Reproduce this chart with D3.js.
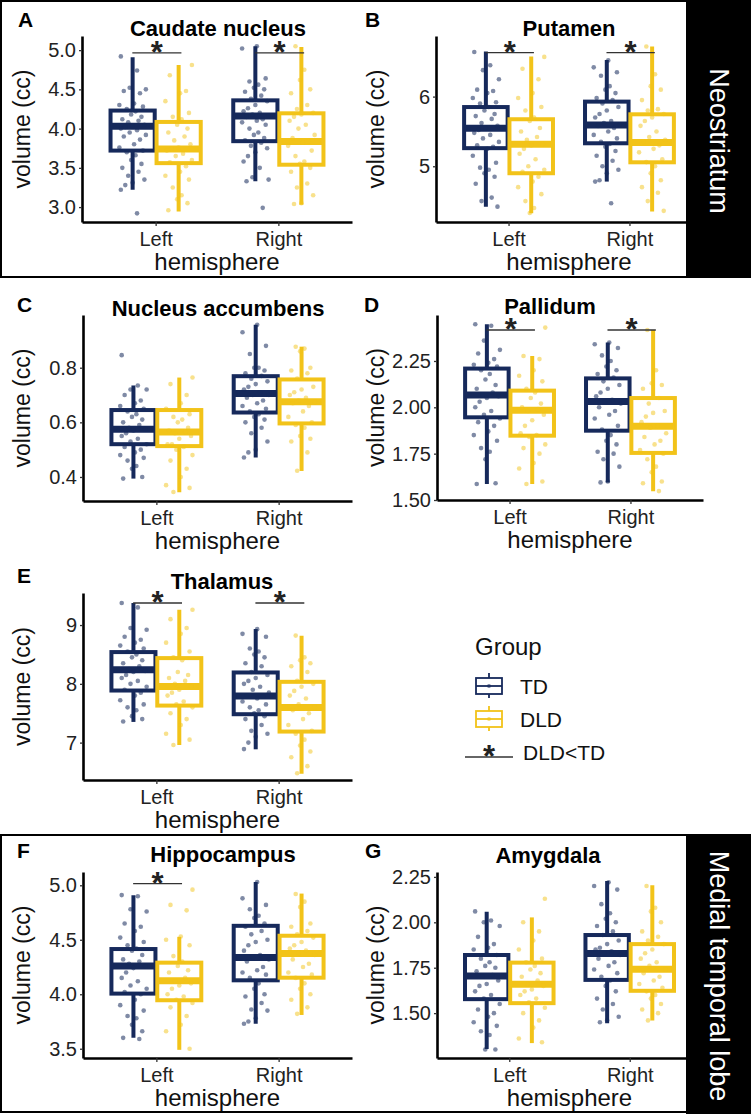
<!DOCTYPE html>
<html>
<head>
<meta charset="utf-8">
<script src="https://cdn.jsdelivr.net/npm/d3@7"></script>
<style>
body { margin: 0; background: #fff; }
svg { display: block; }
text { font-family: "Liberation Sans", Arial, Helvetica, sans-serif; }
</style>
</head>
<body>
<div id="chart"></div>
<script>
var width = 751, height = 1114;

var hemispheres = ["Left", "Right"];
var groups = ["TD", "DLD"];

// box stats: [lower whisker, q1, median, q3, upper whisker]
// order of rows: TD-Left, DLD-Left, TD-Right, DLD-Right
var caudateBox = [[3.22, 3.72, 4.03, 4.23, 4.91], [2.945, 3.56, 3.74, 4.085, 4.81],
                  [3.33, 3.84, 4.16, 4.36, 5.05], [3.03, 3.54, 3.835, 4.195, 5.04]];
var putamenBox = [[4.42, 5.26, 5.545, 5.85, 6.646], [4.325, 4.9, 5.316, 5.675, 6.574],
                  [4.78, 5.33, 5.593, 5.928, 6.526], [4.35, 5.057, 5.34, 5.746, 6.718]];
var accumbensBox = [[0.394, 0.52, 0.575, 0.645, 0.735], [0.344, 0.513, 0.565, 0.645, 0.764],
                    [0.471, 0.636, 0.706, 0.769, 0.957], [0.422, 0.596, 0.675, 0.757, 0.877]];
var pallidumBox = [[1.586, 1.946, 2.067, 2.209, 2.448], [1.586, 1.847, 1.984, 2.09, 2.277],
                   [1.595, 1.874, 2.032, 2.156, 2.349], [1.547, 1.754, 1.898, 2.05, 2.417]];
var thalamusBox = [[7.352, 7.886, 8.239, 8.54, 9.375], [6.96, 7.63, 7.955, 8.4375, 9.261],
                   [6.886, 7.483, 7.795, 8.193, 8.932], [6.47, 7.188, 7.597, 8.034, 8.818]];
var hippocampusBox = [[3.6, 4.006, 4.259, 4.415, 4.909], [3.49, 3.945, 4.125, 4.29, 4.527],
                      [3.73, 4.128, 4.338, 4.628, 5.03], [3.81, 4.152, 4.375, 4.537, 4.924]];
var amygdalaBox = [[1.303, 1.577, 1.705, 1.82, 2.058], [1.335, 1.555, 1.659, 1.778, 2.027],
                   [1.445, 1.683, 1.829, 1.93, 2.228], [1.46, 1.623, 1.741, 1.88, 2.204]];

// individual volumes (cc), same row order
var caudatePts = [
  [4.92, 4.74, 4.52, 4.50, 4.48, 4.45, 4.32, 4.30, 4.28, 4.25, 4.22, 4.18, 4.15, 4.12, 4.10, 4.08, 4.05, 4.03, 4.02, 4.00,
   3.98, 3.95, 3.92, 3.90, 3.86, 3.80, 3.76, 3.72, 3.70, 3.66, 3.60, 3.55, 3.50, 3.45, 3.40, 3.35, 3.31, 3.28, 3.22, 2.92],
  [4.81, 4.68, 4.48, 4.45, 4.35, 4.20, 4.15, 4.12, 4.05, 4.00, 3.95, 3.90, 3.85, 3.80, 3.76, 3.74, 3.72, 3.68, 3.65, 3.60,
   3.57, 3.52, 3.45, 3.40, 3.35, 3.25, 3.15, 3.10, 3.05, 2.96],
  [5.05, 5.02, 4.64, 4.60, 4.56, 4.52, 4.50, 4.47, 4.42, 4.38, 4.35, 4.30, 4.26, 4.22, 4.20, 4.18, 4.16, 4.15, 4.12, 4.10,
   4.08, 4.05, 4.00, 3.95, 3.92, 3.88, 3.85, 3.82, 3.78, 3.75, 3.70, 3.65, 3.58, 3.50, 3.38, 3.35, 3.33, 2.99],
  [5.05, 4.75, 4.62, 4.50, 4.45, 4.30, 4.25, 4.20, 4.18, 4.15, 4.10, 4.05, 4.00, 3.92, 3.88, 3.84, 3.82, 3.78, 3.72, 3.65,
   3.58, 3.55, 3.50, 3.45, 3.30, 3.25, 3.15, 3.05, 3.04]
];
var putamenPts = [
  [6.64, 6.45, 6.38, 6.25, 6.10, 6.08, 6.05, 5.98, 5.92, 5.90, 5.85, 5.80, 5.75, 5.72, 5.68, 5.62, 5.58, 5.55, 5.52, 5.48,
   5.45, 5.40, 5.35, 5.30, 5.28, 5.25, 5.15, 5.05, 4.98, 4.95, 4.90, 4.85, 4.75, 4.55, 4.50, 4.42],
  [6.57, 6.40, 6.25, 6.05, 5.98, 5.85, 5.80, 5.70, 5.65, 5.55, 5.50, 5.42, 5.38, 5.32, 5.30, 5.25, 5.18, 5.10, 5.00, 4.95,
   4.92, 4.85, 4.78, 4.70, 4.60, 4.50, 4.40, 4.33],
  [6.52, 6.42, 6.35, 6.30, 6.15, 6.10, 6.05, 5.98, 5.95, 5.90, 5.85, 5.80, 5.75, 5.70, 5.65, 5.62, 5.60, 5.58, 5.55, 5.50,
   5.45, 5.40, 5.35, 5.32, 5.28, 5.22, 5.15, 5.08, 5.00, 4.95, 4.90, 4.80, 4.78, 4.47],
  [6.72, 6.32, 6.15, 6.10, 5.95, 5.82, 5.80, 5.75, 5.70, 5.65, 5.58, 5.50, 5.42, 5.38, 5.35, 5.30, 5.25, 5.20, 5.10, 5.06,
   5.00, 4.90, 4.80, 4.70, 4.62, 4.50, 4.36]
];
var accumbensPts = [
  [0.846, 0.735, 0.72, 0.72, 0.70, 0.68, 0.67, 0.66, 0.65, 0.64, 0.63, 0.62, 0.61, 0.60, 0.59, 0.58, 0.575, 0.57, 0.56, 0.55,
   0.54, 0.53, 0.52, 0.51, 0.50, 0.49, 0.48, 0.47, 0.46, 0.44, 0.43, 0.40, 0.394],
  [0.764, 0.74, 0.70, 0.67, 0.65, 0.63, 0.62, 0.61, 0.60, 0.58, 0.57, 0.565, 0.56, 0.55, 0.54, 0.52, 0.52, 0.51, 0.50, 0.48,
   0.46, 0.43, 0.40, 0.37, 0.36, 0.345],
  [0.957, 0.93, 0.88, 0.85, 0.80, 0.80, 0.79, 0.78, 0.77, 0.76, 0.75, 0.74, 0.73, 0.72, 0.71, 0.70, 0.70, 0.69, 0.68, 0.67,
   0.66, 0.65, 0.64, 0.63, 0.62, 0.61, 0.60, 0.58, 0.56, 0.53, 0.50, 0.49, 0.471],
  [0.877, 0.87, 0.86, 0.80, 0.79, 0.78, 0.76, 0.73, 0.72, 0.71, 0.70, 0.69, 0.68, 0.675, 0.67, 0.66, 0.64, 0.62, 0.60, 0.59,
   0.58, 0.55, 0.54, 0.53, 0.49, 0.423]
];
var pallidumPts = [
  [2.448, 2.44, 2.36, 2.31, 2.29, 2.26, 2.24, 2.23, 2.22, 2.20, 2.18, 2.15, 2.12, 2.10, 2.08, 2.07, 2.06, 2.05, 2.03, 2.00,
   1.98, 1.96, 1.94, 1.92, 1.90, 1.87, 1.85, 1.82, 1.78, 1.76, 1.72, 1.59, 1.586],
  [2.43, 2.277, 2.26, 2.20, 2.17, 2.14, 2.10, 2.08, 2.05, 2.02, 2.00, 1.99, 1.98, 1.96, 1.93, 1.90, 1.86, 1.85, 1.84, 1.80,
   1.78, 1.75, 1.70, 1.67, 1.60, 1.586],
  [2.349, 2.34, 2.32, 2.28, 2.25, 2.22, 2.20, 2.18, 2.16, 2.14, 2.12, 2.10, 2.08, 2.06, 2.04, 2.03, 2.02, 2.00, 1.98, 1.96,
   1.94, 1.90, 1.88, 1.85, 1.82, 1.80, 1.76, 1.75, 1.72, 1.68, 1.60, 1.595],
  [2.417, 2.20, 2.13, 2.12, 2.10, 2.05, 2.02, 1.98, 1.97, 1.95, 1.92, 1.90, 1.89, 1.86, 1.84, 1.82, 1.80, 1.77, 1.75, 1.72,
   1.68, 1.65, 1.60, 1.59, 1.548]
];
var thalamusPts = [
  [9.375, 9.30, 8.95, 8.92, 8.80, 8.75, 8.70, 8.65, 8.60, 8.55, 8.50, 8.45, 8.40, 8.35, 8.30, 8.25, 8.22, 8.20, 8.15, 8.10,
   8.05, 8.00, 7.95, 7.90, 7.85, 7.80, 7.72, 7.65, 7.60, 7.55, 7.45, 7.40, 7.36],
  [9.26, 9.10, 8.95, 8.85, 8.70, 8.55, 8.45, 8.40, 8.20, 8.15, 8.10, 8.05, 8.00, 7.95, 7.90, 7.85, 7.80, 7.70, 7.65, 7.60,
   7.50, 7.40, 7.30, 7.15, 7.05, 6.96],
  [8.93, 8.85, 8.80, 8.60, 8.55, 8.50, 8.45, 8.35, 8.30, 8.20, 8.15, 8.10, 8.05, 8.00, 7.95, 7.90, 7.85, 7.80, 7.78, 7.75,
   7.70, 7.65, 7.60, 7.55, 7.50, 7.45, 7.40, 7.30, 7.20, 7.15, 7.10, 7.00, 6.89],
  [8.82, 8.45, 8.40, 8.35, 8.30, 8.20, 8.05, 8.00, 7.95, 7.88, 7.80, 7.75, 7.65, 7.60, 7.55, 7.50, 7.40, 7.30, 7.20, 7.15,
   7.05, 6.95, 6.85, 6.75, 6.60, 6.48]
];
var hippocampusPts = [
  [4.91, 4.90, 4.78, 4.76, 4.65, 4.62, 4.58, 4.52, 4.48, 4.45, 4.42, 4.40, 4.36, 4.32, 4.30, 4.28, 4.26, 4.24, 4.20, 4.15,
   4.12, 4.08, 4.05, 4.02, 4.00, 3.95, 3.90, 3.85, 3.80, 3.78, 3.72, 3.66, 3.60, 3.59],
  [4.96, 4.82, 4.77, 4.53, 4.50, 4.45, 4.35, 4.30, 4.26, 4.22, 4.20, 4.15, 4.12, 4.10, 4.08, 4.05, 4.00, 3.98, 3.95, 3.92,
   3.88, 3.80, 3.72, 3.66, 3.50],
  [5.03, 4.88, 4.82, 4.78, 4.72, 4.70, 4.65, 4.62, 4.58, 4.55, 4.50, 4.48, 4.45, 4.40, 4.36, 4.34, 4.32, 4.30, 4.25, 4.22,
   4.20, 4.18, 4.15, 4.10, 4.05, 4.00, 3.98, 3.92, 3.86, 3.85, 3.78, 3.75, 3.73],
  [4.92, 4.85, 4.80, 4.65, 4.62, 4.58, 4.55, 4.52, 4.48, 4.45, 4.42, 4.40, 4.38, 4.36, 4.32, 4.28, 4.25, 4.20, 4.18, 4.15,
   4.10, 4.05, 4.00, 3.95, 3.88, 3.82]
];
var amygdalaPts = [
  [2.06, 2.01, 2.00, 1.98, 1.92, 1.88, 1.86, 1.85, 1.82, 1.80, 1.78, 1.76, 1.75, 1.73, 1.71, 1.70, 1.68, 1.66, 1.65, 1.62,
   1.60, 1.58, 1.55, 1.52, 1.50, 1.48, 1.45, 1.43, 1.40, 1.38, 1.30, 1.30],
  [2.13, 2.00, 1.95, 1.90, 1.85, 1.80, 1.78, 1.76, 1.74, 1.72, 1.70, 1.68, 1.66, 1.65, 1.63, 1.62, 1.60, 1.58, 1.56, 1.53,
   1.50, 1.46, 1.42, 1.36, 1.34],
  [2.22, 2.20, 2.18, 2.10, 2.05, 2.02, 2.00, 1.98, 1.95, 1.93, 1.90, 1.88, 1.86, 1.85, 1.84, 1.83, 1.82, 1.80, 1.78, 1.76,
   1.74, 1.72, 1.70, 1.68, 1.65, 1.62, 1.58, 1.55, 1.52, 1.48, 1.46, 1.45],
  [2.20, 2.08, 2.06, 2.00, 1.95, 1.92, 1.90, 1.88, 1.85, 1.83, 1.80, 1.78, 1.76, 1.74, 1.72, 1.70, 1.68, 1.66, 1.64, 1.62,
   1.60, 1.58, 1.55, 1.52, 1.50, 1.46]
];

// y tick values
var caudateTicks = [3.0, 3.5, 4.0, 4.5, 5.0];
var putamenTicks = [5, 6];
var accumbensTicks = [0.4, 0.6, 0.8];
var pallidumTicks = [1.50, 1.75, 2.00, 2.25];
var thalamusTicks = [7, 8, 9];
var hippocampusTicks = [3.5, 4.0, 4.5, 5.0];
var amygdalaTicks = [1.50, 1.75, 2.00, 2.25];

// height of the DLD<TD significance bar per hemisphere (null = not significant)
var caudateSig = [4.966, 4.966];
var putamenSig = [6.632, 6.632];
var accumbensSig = [null, null];
var pallidumSig = [2.417, 2.417];
var thalamusSig = [9.375, 9.375];
var hippocampusSig = [5.015, null];
var amygdalaSig = [null, null];

var colors = {TD: "#16295b", DLD: "#f2c319"};
// fixed jitter pattern (fraction of half width)
var jitter = [-0.8, 0.3, -0.2, 0.9, -0.6, 0.5, 0.1, -0.9, 0.7, -0.4, 0.2, -0.1, 0.6, -0.7, 0.4, -0.3, 0.8, 0.0, -0.5];

var panels = [
  {letter: "A", title: "Caudate nucleus", box: caudateBox, pts: caudatePts, ticks: caudateTicks, fmt: ".1f", sig: caudateSig,
   x0: 82, x1: 352, y0: 36, y1: 222, domain: [2.81, 5.18], tx: 218, ty: 36, lx: 18, ly: 27, ylab: 30},
  {letter: "B", title: "Putamen", box: putamenBox, pts: putamenPts, ticks: putamenTicks, fmt: "d", sig: putamenSig,
   x0: 436, x1: 702, y0: 36, y1: 222, domain: [4.2, 6.87], tx: 569, ty: 36, lx: 365, ly: 27, ylab: 384},
  {letter: "C", title: "Nucleus accumbens", box: accumbensBox, pts: accumbensPts, ticks: accumbensTicks, fmt: ".1f", sig: accumbensSig,
   x0: 83, x1: 352, y0: 315, y1: 501, domain: [0.312, 0.993], tx: 218, ty: 316, lx: 17, ly: 312, ylab: 30},
  {letter: "D", title: "Pallidum", box: pallidumBox, pts: pallidumPts, ticks: pallidumTicks, fmt: ".2f", sig: pallidumSig,
   x0: 437, x1: 703, y0: 315, y1: 500, domain: [1.50, 2.498], tx: 550, ty: 314, lx: 364, ly: 312, ylab: 384},
  {letter: "E", title: "Thalamus", box: thalamusBox, pts: thalamusPts, ticks: thalamusTicks, fmt: "d", sig: thalamusSig,
   x0: 83, x1: 352, y0: 593, y1: 780, domain: [6.364, 9.545], tx: 222, ty: 589, lx: 17, ly: 583, ylab: 30},
  {letter: "F", title: "Hippocampus", box: hippocampusBox, pts: hippocampusPts, ticks: hippocampusTicks, fmt: ".1f", sig: hippocampusSig,
   x0: 83, x1: 352, y0: 872, y1: 1058, domain: [3.415, 5.122], tx: 223, ty: 862, lx: 17, ly: 858, ylab: 30},
  {letter: "G", title: "Amygdala", box: amygdalaBox, pts: amygdalaPts, ticks: amygdalaTicks, fmt: ".2f", sig: amygdalaSig,
   x0: 437, x1: 702, y0: 872, y1: 1058, domain: [1.253, 2.277], tx: 548, ty: 863, lx: 365, ly: 858, ylab: 384}
];

var svg = d3.select("#chart")
            .append("svg")
            .attr("width", width)
            .attr("height", height);

// frames around the two region groups
svg.append("rect").attr("x", 1).attr("y", 1).attr("width", 749).attr("height", 276)
   .attr("fill", "none").attr("stroke", "#000").attr("stroke-width", 2);
svg.append("rect").attr("x", 1).attr("y", 835).attr("width", 749).attr("height", 277)
   .attr("fill", "none").attr("stroke", "#000").attr("stroke-width", 2);

panels.forEach(function(p) {
    var g = svg.append("g");
    var x = d3.scalePoint().domain(hemispheres).range([p.x0, p.x1]).padding(0.6);
    var step = x.step();
    var y = d3.scaleLinear().domain(p.domain).range([p.y1, p.y0]);
    var dodge = 0.1875 * step, bw = 0.36 * step, jw = 0.12 * step;

    // boxes
    p.box.forEach(function(s, i) {
        var hemi = hemispheres[Math.floor(i / 2)], grp = groups[i % 2];
        var cx = x(hemi) + (i % 2 === 0 ? -dodge : dodge);
        var col = colors[grp];
        g.append("line").attr("x1", cx).attr("x2", cx).attr("y1", y(s[0])).attr("y2", y(s[4]))
         .attr("stroke", col).attr("stroke-width", 4);
        g.append("rect").attr("x", cx - bw / 2).attr("width", bw)
         .attr("y", y(s[3])).attr("height", y(s[1]) - y(s[3]))
         .attr("fill", "#fff").attr("stroke", col).attr("stroke-width", 4);
        g.append("line").attr("x1", cx - bw / 2).attr("x2", cx + bw / 2).attr("y1", y(s[2])).attr("y2", y(s[2]))
         .attr("stroke", col).attr("stroke-width", 7);
    });

    // jittered points
    p.pts.forEach(function(vals, i) {
        var hemi = hemispheres[Math.floor(i / 2)], grp = groups[i % 2];
        var cx = x(hemi) + (i % 2 === 0 ? -dodge : dodge);
        g.selectAll(null).data(vals).enter().append("circle")
         .attr("cx", function(d, k) { return cx + jitter[(k + i * 3) % jitter.length] * jw; })
         .attr("cy", function(d) { return y(d); })
         .attr("r", 2.3)
         .attr("fill", colors[grp])
         .attr("fill-opacity", grp === "TD" ? 0.55 : 0.5);
    });

    // significance bars
    p.sig.forEach(function(v, h) {
        if (v === null) return;
        var cx = x(hemispheres[h]);
        g.append("line").attr("x1", cx - 0.19 * step).attr("x2", cx + 0.21 * step)
         .attr("y1", y(v)).attr("y2", y(v)).attr("stroke", "#333").attr("stroke-width", 1.3);
        g.append("text").attr("x", cx + 0.01 * step).attr("y", y(v) + 10)
         .attr("text-anchor", "middle").attr("font-size", 31).attr("font-weight", "bold")
         .attr("fill", "#222").text("*");
    });

    // axes
    var ya = g.append("g").attr("transform", "translate(" + p.x0 + ",0)")
              .call(d3.axisLeft(y).tickValues(p.ticks).tickFormat(d3.format(p.fmt)).tickSize(3).tickSizeOuter(0).tickPadding(3));
    var xa = g.append("g").attr("transform", "translate(0," + p.y1 + ")")
              .call(d3.axisBottom(x).tickSize(4).tickSizeOuter(0).tickPadding(6));
    [ya, xa].forEach(function(a) {
        a.select(".domain").attr("stroke", "#000").attr("stroke-width", 2.6);
        a.selectAll(".tick line").attr("stroke", "#333").attr("stroke-width", 1.3);
        a.selectAll(".tick text").attr("font-size", 20).attr("fill", "#222")
         .attr("font-family", "'Liberation Sans', Arial, sans-serif");
    });

    // labels
    var xc = p.x0 + (x(hemispheres[1]) + 0.6 * step - p.x0) / 2;
    g.append("text").attr("x", xc)
     .attr("y", p.y1 + 48).attr("text-anchor", "middle").attr("font-size", 24).attr("fill", "#111").text("hemisphere");
    g.append("text").attr("transform", "translate(" + p.ylab + "," + (p.y0 + p.y1) / 2 + ") rotate(-90)")
     .attr("text-anchor", "middle").attr("font-size", 23).attr("fill", "#111").text("volume (cc)");
    g.append("text").attr("x", p.tx).attr("y", p.ty).attr("text-anchor", "middle")
     .attr("font-size", 22).attr("font-weight", "bold").attr("fill", "#000").text(p.title);
    g.append("text").attr("x", p.lx).attr("y", p.ly).attr("font-size", 21).attr("font-weight", "bold")
     .attr("fill", "#000").text(p.letter);
});

// legend
var lg = svg.append("g");
lg.append("text").attr("x", 475).attr("y", 655).attr("font-size", 24).attr("fill", "#111").text("Group");
groups.forEach(function(grp, i) {
    var top = 673 + i * 33, col = colors[grp], cx = 489;
    lg.append("line").attr("x1", cx).attr("x2", cx).attr("y1", top).attr("y2", top + 25)
      .attr("stroke", col).attr("stroke-width", 1.8);
    lg.append("rect").attr("x", 476).attr("y", top + 5).attr("width", 26).attr("height", 16)
      .attr("fill", "#fff").attr("stroke", col).attr("stroke-width", 1.8);
    lg.append("line").attr("x1", 476).attr("x2", 502).attr("y1", top + 13).attr("y2", top + 13)
      .attr("stroke", col).attr("stroke-width", 1.8);
    lg.append("circle").attr("cx", cx).attr("cy", top + 13).attr("r", 2).attr("fill", col).attr("fill-opacity", 0.6);
    lg.append("text").attr("x", 520).attr("y", top + 21).attr("font-size", 21).attr("fill", "#111").text(grp);
});
lg.append("line").attr("x1", 465).attr("x2", 513).attr("y1", 757).attr("y2", 757)
  .attr("stroke", "#333").attr("stroke-width", 1.3);
lg.append("text").attr("x", 489).attr("y", 767).attr("text-anchor", "middle").attr("font-size", 31)
  .attr("font-weight", "bold").attr("fill", "#222").text("*");
lg.append("text").attr("x", 523).attr("y", 760).attr("font-size", 21).attr("fill", "#111").text("DLD<TD");

// region strips
var strips = [{label: "Neostriatum", y0: 0, y1: 278}, {label: "Medial temporal lobe", y0: 834, y1: 1114}];
strips.forEach(function(s) {
    svg.append("rect").attr("x", 686).attr("y", s.y0).attr("width", 65).attr("height", s.y1 - s.y0).attr("fill", "#000");
    svg.append("text").attr("transform", "translate(719," + ((s.y0 + s.y1) / 2 + 2) + ") rotate(90)")
       .attr("text-anchor", "middle").attr("dy", "0.35em").attr("font-size", 27).attr("fill", "#fff").text(s.label);
});
</script>
</body>
</html>
